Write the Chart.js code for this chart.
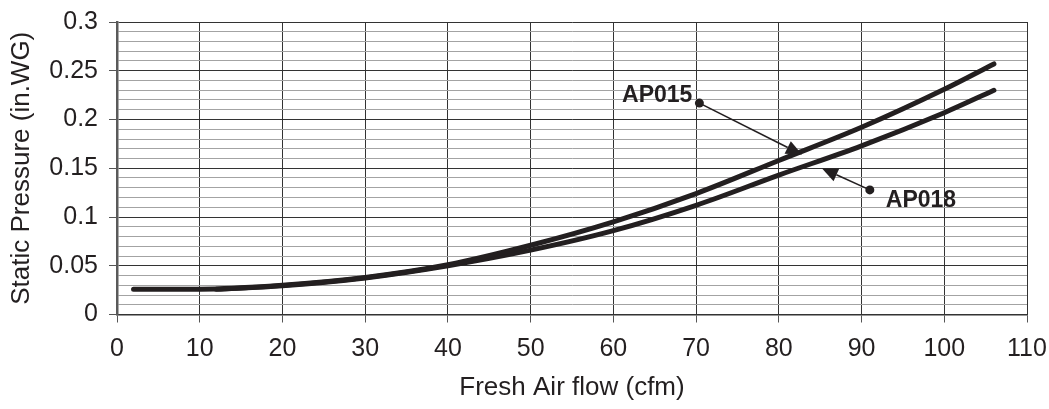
<!DOCTYPE html>
<html>
<head>
<meta charset="utf-8">
<script src="https://cdn.jsdelivr.net/npm/chart.js@4.4.1/dist/chart.umd.min.js"></script>
<style>
  html, body { margin: 0; padding: 0; background: #ffffff; }
  #wrap { width: 1049px; height: 409px; position: relative; }
</style>
</head>
<body>
<div id="wrap"><canvas id="chart"></canvas></div>
<script>
// Fresh air flow (cfm) vs. static pressure (in.WG) for the two units
const flowAP015 = [2, 10, 20, 30, 40, 50, 60, 70, 80, 90, 100, 106];
const pressAP015 = [0.026, 0.026, 0.030, 0.038, 0.051, 0.071, 0.095, 0.124, 0.158, 0.192, 0.231, 0.257];

const flowAP018 = [12, 20, 30, 40, 50, 60, 70, 80, 90, 100, 106];
const pressAP018 = [0.0258, 0.0295, 0.0375, 0.050, 0.066, 0.086, 0.112, 0.143, 0.173, 0.207, 0.230];

const xTickLabels = ['0', '10', '20', '30', '40', '50', '60', '70', '80', '90', '100', '110'];
const yTickLabels = ['0', '0.05', '0.1', '0.15', '0.2', '0.25', '0.3'];

// Callout labels: text, dot position and arrow tip, both in data units
const calloutNames = ['AP015', 'AP018'];
const calloutDots = [[70.4, 0.2168], [91.0, 0.1278]];
const calloutTips = [[82.8, 0.1640], [85.2, 0.1500]];

const INK = '#231f20';
const FONT = "'Liberation Sans', Arial, sans-serif";

const toPoints = (xs, ys) => xs.map((x, i) => ({ x: x, y: ys[i] }));

const calloutPlugin = {
  id: 'callouts',
  afterDatasetsDraw(chart) {
    const { ctx, scales: { x, y } } = chart;
    ctx.save();
    calloutNames.forEach((name, i) => {
      const dx = x.getPixelForValue(calloutDots[i][0]);
      const dy = y.getPixelForValue(calloutDots[i][1]);
      const tx = x.getPixelForValue(calloutTips[i][0]);
      const ty = y.getPixelForValue(calloutTips[i][1]);
      const ang = Math.atan2(ty - dy, tx - dx);
      const headLen = 16, headHalf = 7;
      const bx = tx - headLen * Math.cos(ang);
      const by = ty - headLen * Math.sin(ang);

      // leader line
      ctx.strokeStyle = INK;
      ctx.lineWidth = 1.6;
      ctx.beginPath();
      ctx.moveTo(dx, dy);
      ctx.lineTo(bx, by);
      ctx.stroke();

      // arrow head
      ctx.fillStyle = INK;
      ctx.beginPath();
      ctx.moveTo(tx, ty);
      ctx.lineTo(bx + headHalf * Math.sin(ang), by - headHalf * Math.cos(ang));
      ctx.lineTo(bx - headHalf * Math.sin(ang), by + headHalf * Math.cos(ang));
      ctx.closePath();
      ctx.fill();

      // dot
      ctx.beginPath();
      ctx.arc(dx, dy, 4.5, 0, Math.PI * 2);
      ctx.fill();

      // label
      ctx.font = 'bold 23px ' + FONT;
      ctx.textBaseline = 'alphabetic';
      if (i === 0) {
        ctx.textAlign = 'right';
        ctx.fillText(name, dx - 7, dy - 1.5);
      } else {
        ctx.textAlign = 'left';
        ctx.fillText(name, dx + 16, dy + 17);
      }
    });
    ctx.restore();
  }
};

new Chart(document.getElementById('chart'), {
  type: 'line',
  data: {
    datasets: [
      {
        label: 'AP015',
        data: toPoints(flowAP015, pressAP015),
        borderColor: INK,
        borderWidth: 5,
        borderCapStyle: 'round',
        cubicInterpolationMode: 'monotone',
        pointRadius: 0,
        fill: false
      },
      {
        label: 'AP018',
        data: toPoints(flowAP018, pressAP018),
        borderColor: INK,
        borderWidth: 5,
        borderCapStyle: 'round',
        cubicInterpolationMode: 'monotone',
        pointRadius: 0,
        fill: false
      }
    ]
  },
  options: {
    responsive: true,
    maintainAspectRatio: false,
    animation: false,
    layout: { padding: { left: 0, right: 22, top: 22, bottom: 0 } },
    plugins: {
      legend: { display: false },
      tooltip: { enabled: false }
    },
    scales: {
      x: {
        type: 'linear',
        min: 0,
        max: 110,
        afterFit: s => { s.height = 94.5; s.paddingLeft = 0; s.paddingRight = 0; },
        ticks: {
          stepSize: 10,
          autoSkip: false,
          maxRotation: 0,
          padding: 12,
          color: INK,
          font: { family: FONT, size: 25 },
          callback: (v, i) => xTickLabels[i]
        },
        grid: { color: '#333333', lineWidth: 1, tickLength: 8, tickColor: '#555555' },
        border: { color: '#333333', width: 1.5 },
        title: {
          display: true,
          text: 'Fresh Air flow (cfm)',
          color: INK,
          font: { family: FONT, size: 26 },
          padding: { top: 0, bottom: 6 }
        }
      },
      y: {
        min: 0,
        max: 0.3,
        afterFit: s => { s.width = 117; s.paddingTop = 0; s.paddingBottom = 0; },
        ticks: {
          stepSize: 0.01,
          autoSkip: false,
          padding: 11,
          color: INK,
          font: { family: FONT, size: 25 },
          callback: (v, i) => (i % 5 === 0 ? yTickLabels[i / 5] : '')
        },
        grid: {
          color: c => (c.index % 5 === 0 ? '#333333' : '#a3a3a3'),
          tickColor: c => (c.index % 5 === 0 ? '#555555' : 'rgba(0,0,0,0)'),
          lineWidth: 1,
          tickLength: 8
        },
        border: { color: '#5a5a5a', width: 2.5 },
        title: {
          display: true,
          text: 'Static Pressure (in.WG)',
          color: INK,
          font: { family: FONT, size: 26 },
          padding: { top: 6, bottom: 0 }
        }
      }
    }
  },
  plugins: [calloutPlugin]
});
</script>
</body>
</html>
